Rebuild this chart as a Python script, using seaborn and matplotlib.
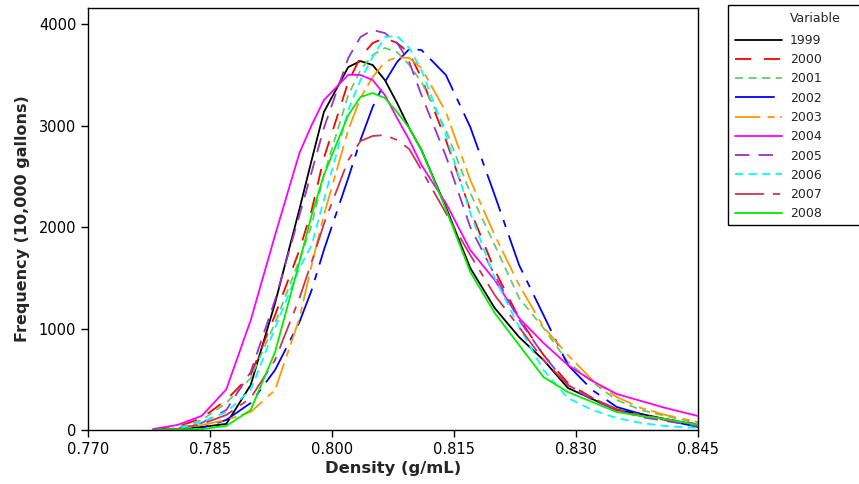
import numpy as np
import pandas as pd
import seaborn as sns
import matplotlib
matplotlib.use("Agg")
import matplotlib.pyplot as plt
from matplotlib.patches import Rectangle

density = [0.778, 0.781, 0.784, 0.787, 0.790, 0.793, 0.796, 0.7975, 0.799, 0.802,
           0.8035, 0.805, 0.8065, 0.808, 0.8095, 0.811, 0.814, 0.817, 0.820, 0.823,
           0.826, 0.829, 0.832, 0.835, 0.838, 0.841, 0.845]

y1999 = [0, 10, 30, 60, 443, 1250, 2177, 2660, 3133, 3576, 3635, 3596, 3448, 3222,
         2975, 2759, 2197, 1596, 1202, 916, 690, 414, 305, 197, 158, 108, 49]
y2000 = [0, 30, 118, 296, 542, 1133, 1773, 2167, 2680, 3429, 3675, 3813, 3862, 3813,
         3714, 3468, 2857, 2167, 1576, 1103, 739, 463, 315, 197, 138, 99, 49]
y2001 = [0, 20, 99, 266, 512, 1054, 1675, 2020, 2512, 3300, 3547, 3695, 3764, 3724,
         3596, 3429, 2956, 2335, 1823, 1300, 1005, 670, 473, 296, 197, 138, 69]
y2002 = [0, 5, 20, 99, 266, 591, 1064, 1379, 1773, 2483, 2857, 3182, 3429, 3626,
         3754, 3744, 3498, 2985, 2315, 1626, 1133, 640, 394, 227, 158, 99, 30]
y2003 = [0, 10, 49, 99, 177, 394, 1100, 1626, 2118, 2956, 3271, 3478, 3626, 3675,
         3665, 3567, 3133, 2463, 1921, 1429, 1015, 739, 493, 325, 217, 148, 79]
y2004 = [10, 50, 140, 400, 1080, 1920, 2730, 3005, 3250, 3500, 3498, 3448, 3300, 3074,
         2857, 2610, 2236, 1773, 1478, 1103, 857, 640, 483, 355, 286, 217, 138]
y2005 = [0, 10, 70, 197, 571, 1281, 2118, 2542, 2975, 3665, 3872, 3941, 3911, 3813,
         3626, 3300, 2700, 2000, 1527, 1084, 739, 443, 296, 197, 128, 89, 39]
y2006 = [0, 10, 79, 177, 394, 1005, 1596, 1823, 2266, 3153, 3448, 3675, 3872, 3882,
         3764, 3547, 2906, 2138, 1498, 1015, 591, 315, 197, 118, 69, 39, 20]
y2007 = [0, 10, 59, 148, 315, 690, 1300, 1655, 2030, 2660, 2847, 2897, 2906, 2857,
         2768, 2562, 2138, 1724, 1330, 1015, 690, 443, 315, 207, 148, 108, 59]
y2008 = [0, 5, 10, 40, 197, 768, 1655, 2118, 2512, 3103, 3281, 3320, 3271, 3133,
         2975, 2759, 2177, 1557, 1153, 837, 522, 374, 276, 177, 138, 108, 49]

years = ["1999", "2000", "2001", "2002", "2003", "2004", "2005", "2006", "2007", "2008"]
series = [y1999, y2000, y2001, y2002, y2003, y2004, y2005, y2006, y2007, y2008]

colors = ["#000000", "#ff0000", "#66cc66", "#0000ff", "#ff9900",
          "#ff00ff", "#9933cc", "#00ffff", "#cc3355", "#00ee00"]
dash_styles = ["", (9, 7), (4.5, 3), (22, 5, 4, 5), (14, 4, 4, 3),
               "", (8, 5), (4.5, 3), (16, 5, 4, 5), ""]

rows = []
for yr, vals in zip(years, series):
    for d, v in zip(density, vals):
        rows.append({"Density": d, "Frequency": v, "Variable": yr})
df = pd.DataFrame(rows)

sns.set_style("ticks")
plt.rcParams["font.family"] = ["DejaVu Sans"]

fig = plt.figure(figsize=(8.59, 4.84), dpi=100)
ax = fig.add_axes([88 / 859, 54 / 484, 610 / 859, 422 / 484])

sns.lineplot(data=df, x="Density", y="Frequency", hue="Variable", style="Variable",
             palette=dict(zip(years, colors)), dashes=dict(zip(years, dash_styles)),
             linewidth=1.3, ax=ax)

ax.set_xlim(0.770, 0.845)
ax.set_ylim(0, 4158)
ax.set_xticks([0.770, 0.785, 0.800, 0.815, 0.830, 0.845])
ax.set_xticklabels(["0.770", "0.785", "0.800", "0.815", "0.830", "0.845"])
ax.set_yticks([0, 1000, 2000, 3000, 4000])
ax.tick_params(axis="both", labelsize=10.5, length=5, width=1, direction="out",
               colors="black")
for s in ax.spines.values():
    s.set_visible(True)
    s.set_linewidth(1.0)
    s.set_color("black")
ax.set_xlabel("Density (g/mL)", fontsize=11.8, fontweight="bold", labelpad=3)
ax.set_ylabel("Frequency (10,000 gallons)", fontsize=11.5, fontweight="bold", labelpad=6)

# legend box (open on the right, as in the reference)
fig.patches.append(Rectangle((728 / 859, (484 - 225) / 484), 0.3, 220 / 484,
                             transform=fig.transFigure, fill=False,
                             edgecolor="black", linewidth=1.0, clip_on=False))
fig.text(790 / 859, 1 - 19 / 484, "Variable", fontsize=9, va="center", ha="left")

leg = ax.legend(loc="upper left", bbox_to_anchor=(735 / 859, 1 - 34 / 484),
                bbox_transform=fig.transFigure, fontsize=9, frameon=False,
                handlelength=3.76, labelspacing=0.5, borderpad=0.0,
                borderaxespad=0.0, handletextpad=0.64)

fig.savefig("out.png", dpi=100)
